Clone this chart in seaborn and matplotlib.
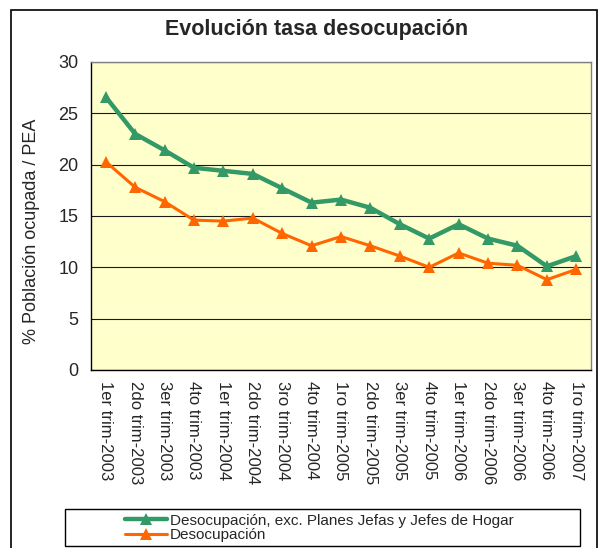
import pandas as pd
import matplotlib.pyplot as plt
import matplotlib.patches as mpatches
import seaborn as sns

# data
periods = [
    '1er trim-2003', '2do trim-2003', '3er trim-2003', '4to trim-2003',
    '1er trim-2004', '2do trim-2004', '3ro trim-2004', '4to trim-2004',
    '1ro trim-2005', '2do trim-2005', '3er trim-2005', '4to trim-2005',
    '1er trim-2006', '2do trim-2006', '3er trim-2006', '4to trim-2006',
    '1ro trim-2007',
]
sin_planes = [26.6, 23.0, 21.4, 19.7, 19.4, 19.1, 17.7, 16.3, 16.6, 15.8,
              14.2, 12.8, 14.2, 12.8, 12.1, 10.1, 11.1]
desocupacion = [20.3, 17.8, 16.4, 14.6, 14.5, 14.8, 13.3, 12.1, 13.0, 12.1,
                11.1, 10.0, 11.4, 10.4, 10.2, 8.8, 9.8]
series_names = ['Desocupación, exc. Planes Jefas y Jefes de Hogar', 'Desocupación']

df = pd.DataFrame({
    'pos': list(range(len(periods))) * 2,
    'valor': sin_planes + desocupacion,
    'serie': [series_names[0]] * len(periods) + [series_names[1]] * len(periods),
})

sns.set_style('white')
plt.rcParams['font.family'] = ['Liberation Sans', 'DejaVu Sans']

fig = plt.figure(figsize=(5.99, 5.48), dpi=100)
ax = fig.add_axes([91 / 599, 1 - 370 / 548, 500 / 599, 308 / 548])
ax.set_facecolor('#FFFFCC')

# outer chart border (open at the bottom, like the cropped original)
fig.patches.append(mpatches.Rectangle((11 / 599, -0.05), 586 / 599, 1.05 - 10 / 548,
                                      transform=fig.transFigure, fill=False,
                                      edgecolor='black', linewidth=1.2))

palette = {series_names[0]: '#339966', series_names[1]: '#FF6600'}
sns.lineplot(data=df, x='pos', y='valor', hue='serie', palette=palette,
             marker='^', markersize=9, markeredgewidth=0, legend=False,
             ax=ax, zorder=3)
lines = ax.get_lines()
lines[0].set_linewidth(3.2)
lines[1].set_linewidth(2.2)

ax.set_xlim(-0.5, len(periods) - 0.5)
ax.set_ylim(0, 30)
ax.set_yticks(range(0, 31, 5))
ax.yaxis.grid(True, color='#1a1a1a', linewidth=0.8)
ax.set_axisbelow(True)

# category ticks between the points, labels on the points
ax.set_xticks([i - 0.5 for i in range(len(periods) + 1)])
ax.set_xticklabels([])
ax.set_xticks(range(len(periods)), minor=True)
ax.set_xticklabels(periods, minor=True, rotation=270, fontsize=12)
ax.tick_params(axis='x', which='major', direction='out', length=5, width=0.8, color='black')
ax.tick_params(axis='x', which='minor', length=0, pad=8)
ax.tick_params(axis='y', direction='out', length=5, width=0.8, color='black', labelsize=13, pad=4)

for side in ['top', 'right']:
    ax.spines[side].set_color('#808080')
for side in ['left', 'bottom']:
    ax.spines[side].set_color('black')
for s in ax.spines.values():
    s.set_linewidth(1)

ax.set_xlabel('')
ax.set_ylabel('% Población ocupada / PEA', fontsize=13)
ax.yaxis.set_label_coords(-0.102, 0.45)
fig.text(317 / 599, 1 - 30 / 548, 'Evolución tasa desocupación',
         ha='center', va='center', fontsize=15.5, fontweight='bold')

# legend box drawn separately, entries centred in it
fig.patches.append(mpatches.Rectangle((65 / 599, 1 - 546 / 548), 515 / 599, 37 / 548,
                                      transform=fig.transFigure, fill=False,
                                      edgecolor='black', linewidth=1))
fig.legend(lines, series_names, loc='center',
           bbox_to_anchor=(319 / 599, 1 - 528 / 548),
           fontsize=11, frameon=False,
           borderpad=0, labelspacing=0.05, handlelength=2.8, handletextpad=0.15)

fig.savefig('out.png', dpi=100)
